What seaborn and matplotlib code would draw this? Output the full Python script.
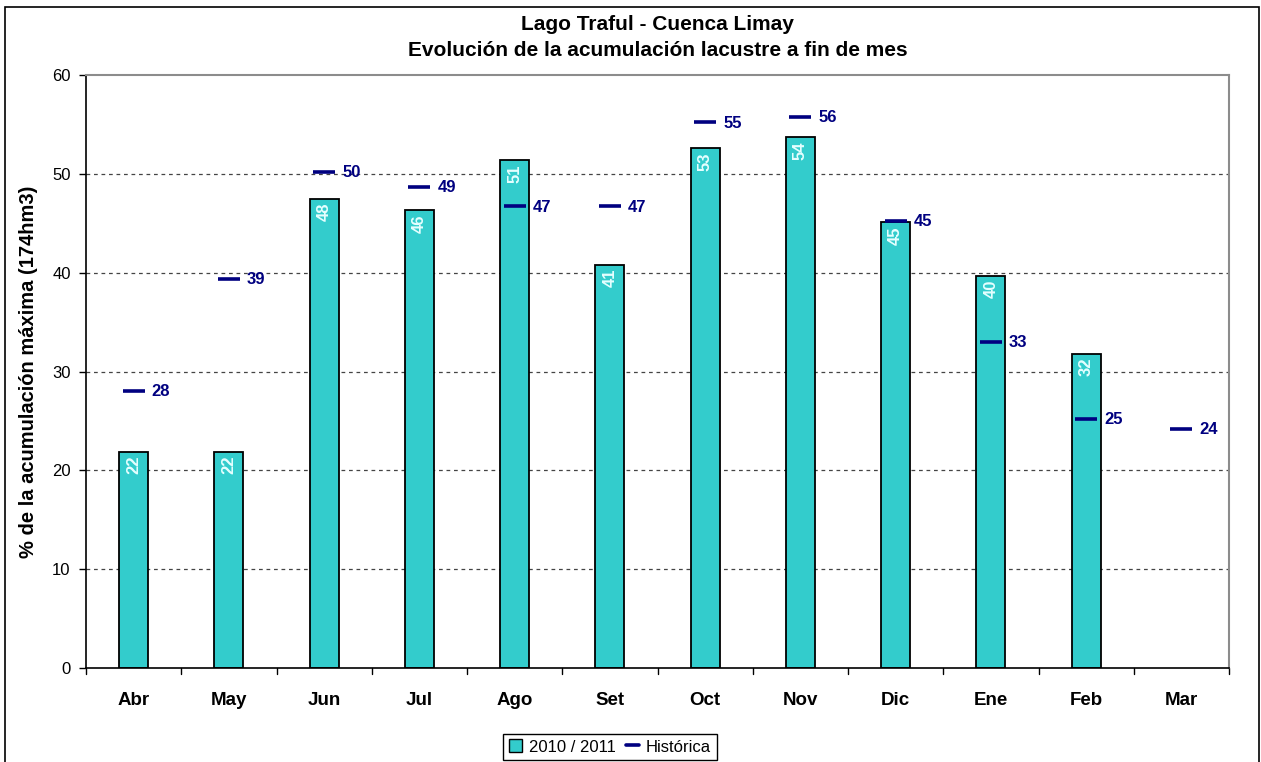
import numpy as np
import pandas as pd
import matplotlib
matplotlib.use("Agg")
import matplotlib.pyplot as plt
from matplotlib.patches import Patch, Rectangle
from matplotlib.lines import Line2D
import seaborn as sns

# Monthly lake storage, % of maximum accumulation (174 hm3)
months = ["Abr", "May", "Jun", "Jul", "Ago", "Set", "Oct", "Nov", "Dic", "Ene", "Feb", "Mar"]
season_2010_2011 = [21.9, 21.9, 47.5, 46.3, 51.4, 40.8, 52.6, 53.7, 45.1, 39.7, 31.8, np.nan]
historica = [28.0, 39.4, 50.2, 48.7, 46.7, 46.7, 55.2, 55.8, 45.2, 33.0, 25.2, 24.2]

title_lines = ["Lago Traful - Cuenca Limay", "Evolución de la acumulación lacustre a fin de mes"]
ylabel = "% de la acumulación máxima (174hm3)"
series_names = ["2010 / 2011", "Histórica"]

BAR_COLOR = "#33CCCC"
HIST_COLOR = "#000080"

sns.set_theme(style="white")
plt.rcParams["font.family"] = ["Liberation Sans", "DejaVu Sans"]
plt.rcParams["text.color"] = "black"
plt.rcParams["axes.labelcolor"] = "black"
plt.rcParams["xtick.color"] = "black"
plt.rcParams["ytick.color"] = "black"

df = pd.DataFrame({"mes": months, "valor": season_2010_2011, "hist": historica})

fig = plt.figure(figsize=(12.61, 7.62), dpi=100)
ax = fig.add_axes([86 / 1261, 1 - 668 / 762, (1229 - 86) / 1261, (668 - 75) / 762])

sns.barplot(data=df, x="mes", y="valor", order=months, color=BAR_COLOR,
            edgecolor="black", linewidth=1.3, width=0.305, saturation=1, ax=ax)

pos = np.arange(len(months))
sns.scatterplot(x=pos, y=df["hist"], marker="_", s=240, linewidth=2.6,
                color=HIST_COLOR, ax=ax, zorder=4, legend=False)

# value labels inside the bars
for i, v in enumerate(season_2010_2011):
    if np.isnan(v):
        continue
    ax.annotate(f"{v:.0f}", xy=(i, v), xytext=(0, -3), textcoords="offset points",
                rotation=90, ha="center", va="top", fontsize=12, fontweight="bold",
                color="#E6FFFF", zorder=5)

# labels next to the historical marks
for i, v in enumerate(historica):
    ax.annotate(f"{v:.0f}", xy=(i, v), xytext=(13, -0.5), textcoords="offset points",
                ha="left", va="center", fontsize=12, fontweight="bold",
                color=HIST_COLOR, zorder=5)

ax.set_xlim(-0.5, len(months) - 0.5)
ax.set_ylim(0, 60)
ax.set_yticks(range(0, 61, 10))
ax.set_xticks(pos)
ax.set_xticklabels(months, fontsize=13.5, fontweight="bold")
ax.tick_params(axis="y", labelsize=12, length=5, width=1, color="black",
               direction="out", left=True, pad=6)
ax.tick_params(axis="x", length=0, pad=17)
for b in np.arange(-0.5, len(months) + 0.5, 1.0):
    ax.plot([b, b], [0, -0.01], transform=ax.get_xaxis_transform(),
            color="black", lw=1, clip_on=False)
ax.set_xlabel("")
ax.set_ylabel(ylabel, fontsize=14.5, fontweight="bold", labelpad=10)

for y in range(10, 60, 10):
    ax.axhline(y, color="#444444", lw=0.9, ls=(0, (3, 3)), zorder=0)

for side in ["left", "bottom"]:
    ax.spines[side].set_color("black")
    ax.spines[side].set_linewidth(1.2)
for side in ["top", "right"]:
    ax.spines[side].set_color("#8C8C8C")
    ax.spines[side].set_linewidth(1.5)

center_x = (86 + 1229) / 2 / 1261
fig.text(center_x, 1 - 25 / 762, title_lines[0], ha="center", va="center",
         fontsize=15, fontweight="bold")
fig.text(center_x, 1 - 50 / 762, title_lines[1], ha="center", va="center",
         fontsize=15, fontweight="bold")

handles = [Patch(facecolor=BAR_COLOR, edgecolor="black", linewidth=1),
           Line2D([0], [0], color=HIST_COLOR, lw=2.6)]
leg = fig.legend(handles, series_names, loc="lower center",
                 bbox_to_anchor=(610 / 1261, 0.0), ncol=2, fontsize=12,
                 frameon=True, fancybox=False, framealpha=1, edgecolor="black",
                 handlelength=0.8, handleheight=0.8, handletextpad=0.4,
                 columnspacing=0.6, borderpad=0.35, borderaxespad=0.1)
leg.get_frame().set_linewidth(1)

# outer chart frame
fig.add_artist(Rectangle((5 / 1261, -0.02), (1259 - 5) / 1261, 1 - 7 / 762 + 0.02,
                         transform=fig.transFigure, fill=False, edgecolor="black",
                         linewidth=1.2))

fig.savefig("out.png", dpi=100, facecolor="white")
